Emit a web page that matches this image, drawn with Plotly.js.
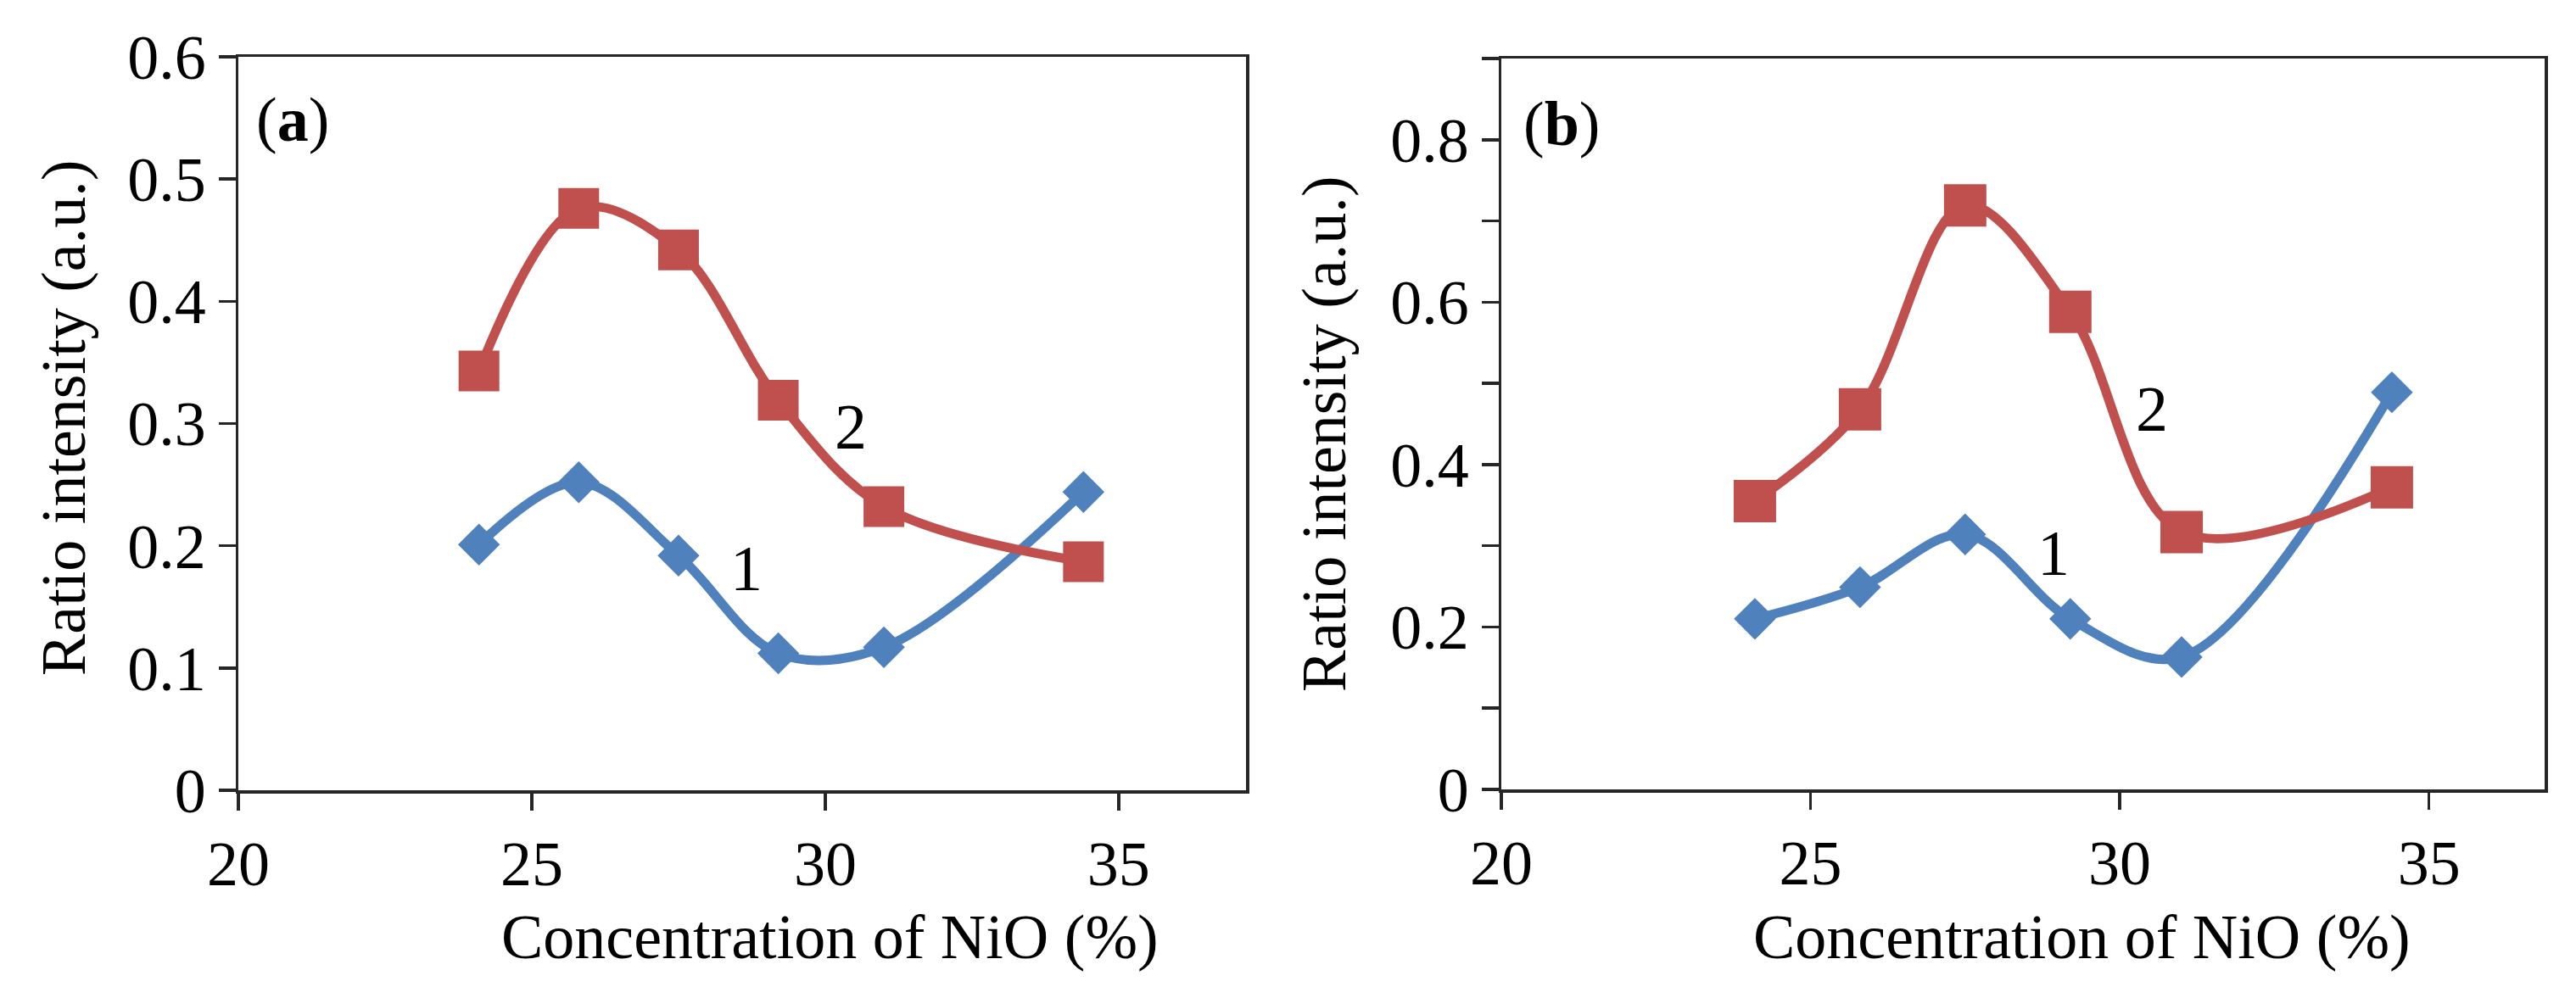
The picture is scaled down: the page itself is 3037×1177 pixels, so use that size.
<!DOCTYPE html>
<html>
<head>
<meta charset="utf-8">
<script src="https://cdn.plot.ly/plotly-3.0.1.min.js"></script>
<style>html,body{margin:0;padding:0;background:#fff;}#chart{width:3037px;height:1177px;}</style>
</head>
<body>
<div id="chart"></div>
<script>
// ---- data ----
const concentration = [24.1, 25.8, 27.5, 29.2, 31.0, 34.4];
const ratioA1 = [0.201, 0.252, 0.192, 0.112, 0.117, 0.244];
const ratioA2 = [0.343, 0.476, 0.442, 0.319, 0.232, 0.187];
const ratioB1 = [0.210, 0.249, 0.314, 0.210, 0.163, 0.489];
const ratioB2 = [0.355, 0.468, 0.719, 0.588, 0.317, 0.372];
const xTickVals = [20, 25, 30, 35];
const yTickValsA = [0, 0.1, 0.2, 0.3, 0.4, 0.5, 0.6];
const yTickTextA = ['0', '0.1', '0.2', '0.3', '0.4', '0.5', '0.6'];
const yTickValsB = [0, 0.1, 0.2, 0.3, 0.4, 0.5, 0.6, 0.7, 0.8, 0.9];
const yTickTextB = ['0', '', '0.2', '', '0.4', '', '0.6', '', '0.8', ''];
const xTitle = 'Concentration of NiO (%)';
const yTitle = 'Ratio intensity (a.u.)';

const FONT = 'Liberation Serif, Times New Roman, serif';
const BLUE = '#4F81BD', RED = '#C0504D', AX = '#262626';

function series(x, y, color, symbol, size, xa, ya) {
  return {
    x: x, y: y, xaxis: xa, yaxis: ya, type: 'scatter', mode: 'lines+markers',
    line: {color: color, width: 11, shape: 'spline', smoothing: 1},
    marker: {color: color, symbol: symbol, size: size},
    showlegend: false, hoverinfo: 'x+y'
  };
}

const data = [
  series(concentration, ratioA1, BLUE, 'diamond', 38, 'x', 'y'),
  series(concentration, ratioA2, RED, 'square', 48, 'x', 'y'),
  series(concentration, ratioB1, BLUE, 'diamond', 38, 'x2', 'y2'),
  series(concentration, ratioB2, RED, 'square', 50, 'x2', 'y2')
];

function xAxis(domain, range, anchor) {
  return {
    domain: domain, range: range, anchor: anchor,
    tickvals: xTickVals, ticktext: xTickVals.map(String),
    showline: true, mirror: true, linecolor: AX, linewidth: 3.5,
    ticks: 'outside', ticklen: 20, tickwidth: 3.5, tickcolor: AX,
    showgrid: false, zeroline: false,
    tickfont: {family: FONT, size: 74, color: '#000'}
  };
}
function yAxis(domain, range, anchor, vals, text) {
  return {
    domain: domain, range: range, anchor: anchor,
    tickvals: vals, ticktext: text,
    showline: true, mirror: true, linecolor: AX, linewidth: 3.5,
    ticks: 'outside', ticklen: 20, tickwidth: 3.5, tickcolor: AX,
    showgrid: false, zeroline: false,
    tickfont: {family: FONT, size: 74, color: '#000'}
  };
}

const W = 3037, H = 1177;
const px = v => v / W, py = v => 1 - v / H;

const layout = {
  width: W, height: H,
  margin: {l: 0, r: 0, t: 0, b: 0},
  paper_bgcolor: '#fff', plot_bgcolor: '#fff',
  font: {family: FONT, color: '#000'},
  xaxis: xAxis([px(281), px(1469)], [20, 37.17], 'y'),
  yaxis: yAxis([1 - 932 / H, 1 - 67 / H], [0, 0.6], 'x', yTickValsA, yTickTextA),
  xaxis2: xAxis([px(1770), px(3000)], [20, 36.87], 'y2'),
  yaxis2: yAxis([1 - 931 / H, 1 - 69 / H], [0, 0.9], 'x2', yTickValsB, yTickTextB),
  annotations: [
    {xref: 'paper', yref: 'paper', x: px(345), y: py(141), text: '(<b>a</b>)', showarrow: false,
     font: {family: FONT, size: 74}, xanchor: 'center', yanchor: 'middle'},
    {xref: 'paper', yref: 'paper', x: px(1841), y: py(146), text: '(<b>b</b>)', showarrow: false,
     font: {family: FONT, size: 74}, xanchor: 'center', yanchor: 'middle'},
    {xref: 'x', yref: 'y', x: 28.66, y: 0.182, text: '1', showarrow: false,
     font: {family: FONT, size: 76}},
    {xref: 'x', yref: 'y', x: 30.43, y: 0.2975, text: '2', showarrow: false,
     font: {family: FONT, size: 76}},
    {xref: 'x2', yref: 'y2', x: 28.93, y: 0.291, text: '1', showarrow: false,
     font: {family: FONT, size: 76}},
    {xref: 'x2', yref: 'y2', x: 30.52, y: 0.469, text: '2', showarrow: false,
     font: {family: FONT, size: 76}},
    {xref: 'paper', yref: 'paper', x: px(978), y: py(1105), text: xTitle, showarrow: false,
     font: {family: FONT, size: 74}, xanchor: 'center', yanchor: 'middle'},
    {xref: 'paper', yref: 'paper', x: px(2454), y: py(1105), text: xTitle, showarrow: false,
     font: {family: FONT, size: 74}, xanchor: 'center', yanchor: 'middle'},
    {xref: 'paper', yref: 'paper', x: px(75), y: py(493), text: yTitle, showarrow: false, textangle: -90,
     font: {family: FONT, size: 74}, xanchor: 'center', yanchor: 'middle'},
    {xref: 'paper', yref: 'paper', x: px(1561), y: py(512), text: yTitle, showarrow: false, textangle: -90,
     font: {family: FONT, size: 74}, xanchor: 'center', yanchor: 'middle'}
  ]
};

Plotly.newPlot('chart', data, layout, {displayModeBar: false, staticPlot: true});
</script>
</body>
</html>
